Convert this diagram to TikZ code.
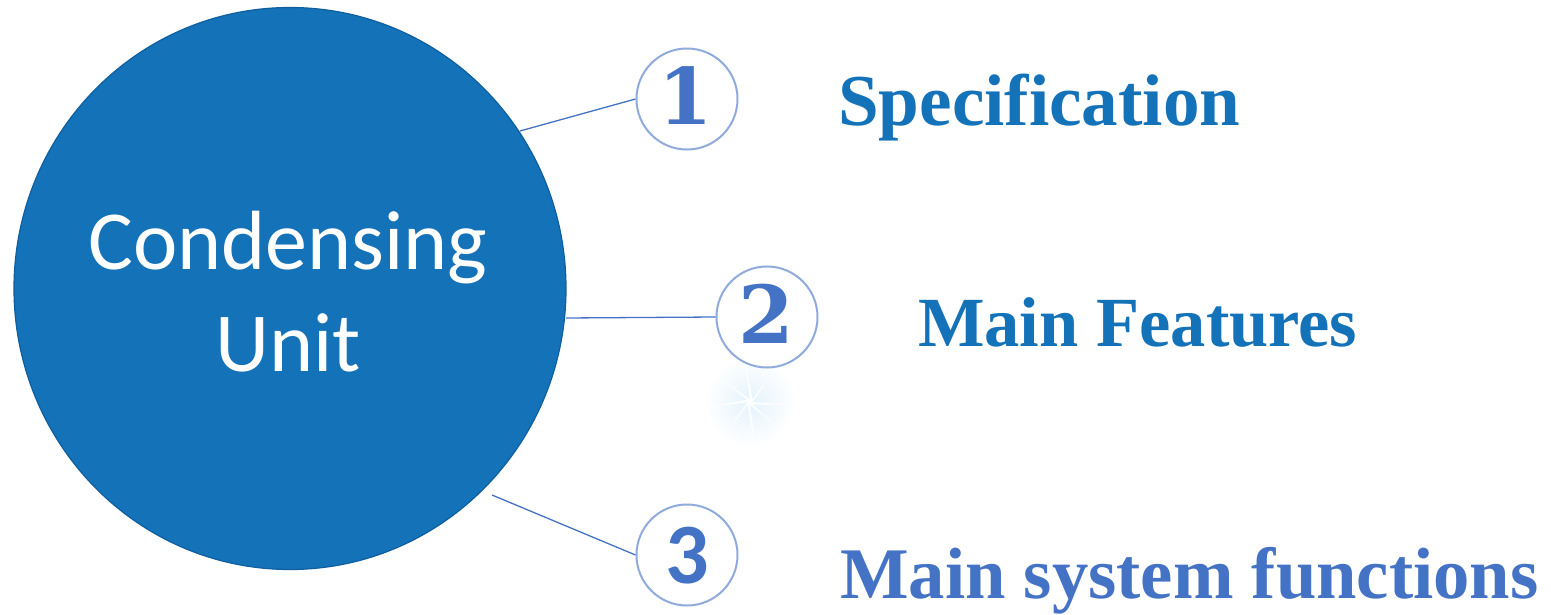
\documentclass[tikz,border=0pt]{standalone}
\usepackage{fontspec}
\setmainfont{Liberation Serif}
\newfontfamily\carl{Carlito}
\newfontfamily\dvs{DejaVu Serif}
\usetikzlibrary{shadings,shapes.geometric}
\definecolor{mainblue}{HTML}{1472B9}
\definecolor{edgeblue}{HTML}{0F5E9E}
\definecolor{numblue}{HTML}{4472C4}
\definecolor{ringblue}{HTML}{8FAADC}
\definecolor{spark}{HTML}{DDEFFB}
\tikzset{
  bigc/.style={ellipse, fill=mainblue, draw=edgeblue, line width=1.2pt, minimum width=552pt, minimum height=562pt, inner sep=0pt},
  numc/.style={circle, draw=ringblue, line width=2pt, fill=white, minimum size=101pt, inner sep=0pt, text=numblue},
  link/.style={draw=numblue, line width=1.3pt},
  lbl/.style={anchor=base west, inner sep=0pt, font=\bfseries},
  digit/.style={text=numblue, anchor=base, inner sep=0pt},
}
\begin{document}
\begin{tikzpicture}[x=1pt,y=-1pt]
\useasboundingbox (0,0) rectangle (1551,615);
% faint sparkle
\shade[inner color=spark, outer color=white, opacity=0.8] (750,402) circle (45);
\foreach \a/\l in {0/50,40/40,80/55,125/38,170/50,215/42,260/55,305/40}{
  \fill[white, opacity=0.9] (750,402) -- ++(\a+3:\l) -- ++(\a+180:\l) -- cycle;
}
\node[bigc] (cu) at (290,288.5) {};
\node[text=white, align=center, font=\carl\fontsize{84}{102}\selectfont] (cut) at (288,292) {Condensing\\Unit};
\node[numc] (n1) at (687,99) {};
\node[numc] (n2) at (767,317) {};
\node[numc] (n3) at (687,555) {};
\node[digit, font=\dvs\bfseries\fontsize{78}{78}\selectfont] (d1) at (686,125) {1};
\node[digit, font=\dvs\bfseries\fontsize{80}{80}\selectfont] (d2) at (766,343) {2};
\node[digit, font=\carl\bfseries\fontsize{86}{86}\selectfont] (d3) at (687,583) {3};
\coordinate (s1) at (520,131);
\coordinate (s2) at (566,318);
\coordinate (s3) at (492,495);
\draw[link] (s1) -- (n1.west);
\draw[link] (s2) -- (n2.west);
\draw[link] (s3) -- (n3.west);
\node[lbl, text=mainblue] (t1) at (838,125) {\resizebox{402pt}{!}{Specification}};
\node[lbl, text=mainblue] (t2) at (918,346) {\resizebox{439pt}{!}{Main Features}};
\node[lbl, text=numblue] (t3) at (840,598) {\resizebox{698pt}{!}{Main system functions}};
\end{tikzpicture}
\end{document}
